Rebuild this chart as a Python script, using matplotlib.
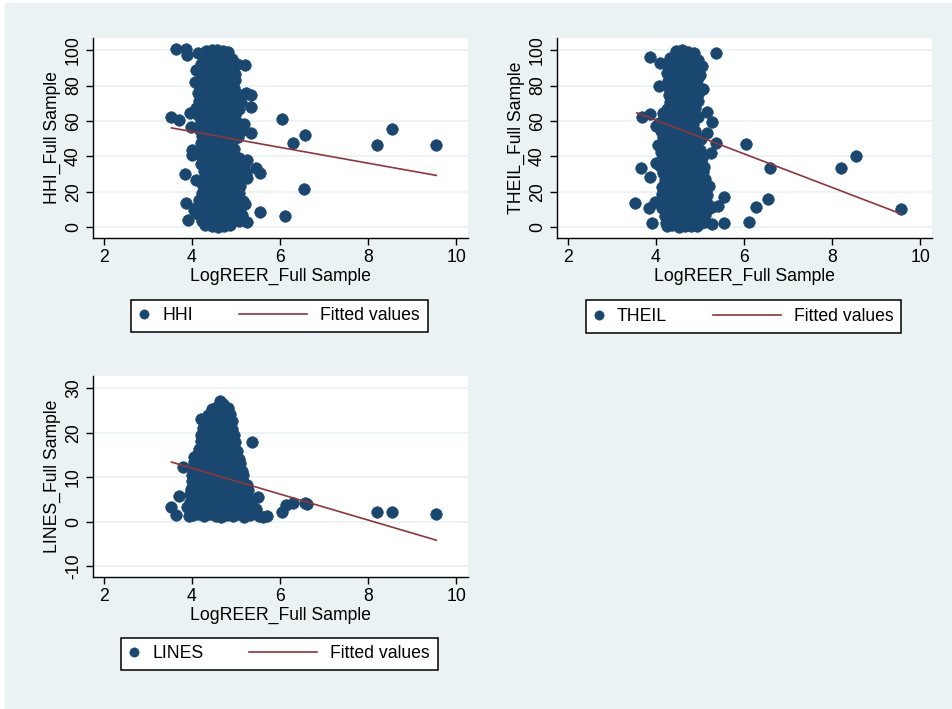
import matplotlib
matplotlib.use('Agg')
import matplotlib.pyplot as plt
from matplotlib.patches import Rectangle
from matplotlib.legend_handler import HandlerLine2D

plt.rcParams['font.family'] = ['Liberation Sans', 'DejaVu Sans']
plt.rcParams['axes.unicode_minus'] = False

BG = '#eaf2f3'
NAVY = '#1a476f'
RED = '#90353b'

# ---- HHI vs LogREER (row by row) ----
hhi_x = [
    4.33, 4.46, 4.58, 4.70, 4.82,
    4.27, 4.40, 4.53, 4.66, 4.79, 4.91,
    4.22, 4.35, 4.49, 4.62, 4.76, 4.89, 5.02,
    4.17, 4.30, 4.44, 4.58, 4.72, 4.85, 4.98,
    4.21, 4.34, 4.47, 4.61, 4.75, 4.88, 4.99,
    4.16, 4.30, 4.44, 4.58, 4.72, 4.86, 4.97,
    4.14, 4.27, 4.41, 4.55, 4.69, 4.83, 4.96, 5.10, 5.24,
    4.16, 4.29, 4.43, 4.57, 4.71, 4.85, 4.98, 5.12,
    4.10, 4.24, 4.38, 4.52, 4.66, 4.80, 4.94, 5.08,
    4.15, 4.29, 4.43, 4.57, 4.71, 4.85, 4.99,
    4.20, 4.34, 4.48, 4.62, 4.76, 4.90, 5.05, 5.18,
    4.16, 4.30, 4.44, 4.58, 4.72, 4.86, 5.00, 5.12,
    4.24, 4.38, 4.52, 4.66, 4.80, 4.94, 5.06,
    4.22, 4.35, 4.49, 4.63, 4.77, 4.91,
    4.25, 4.39, 4.53, 4.67, 4.81, 4.95,
    4.23, 4.37, 4.51, 4.65, 4.79, 4.93, 5.07,
    4.21, 4.35, 4.49, 4.63, 4.77, 4.91, 5.05, 5.18,
    4.27, 4.41, 4.55, 4.69, 4.83, 4.97, 5.11, 5.23,
    4.29, 4.43, 4.57, 4.71, 4.85, 4.99, 5.13, 5.25,
    4.25, 4.39, 4.53, 4.67, 4.81, 4.95, 5.09,
    4.24, 4.38, 4.52, 4.66, 4.80, 4.94, 5.07,
    4.17, 4.31, 4.45, 4.59, 4.73, 4.87, 5.01, 5.16,
    4.12, 4.26, 4.40, 4.54, 4.68, 4.82, 4.96, 5.10, 5.22,
    4.15, 4.29, 4.43, 4.57, 4.71, 4.85, 4.99, 5.13,
    4.23, 4.37, 4.51, 4.65, 4.79, 4.93, 5.07,
    4.30, 4.45, 4.60, 4.74, 4.88,
    # scattered points
    3.65, 3.88, 3.89, 4.14, 3.53, 3.71, 3.97, 3.98, 4.01, 4.01, 3.84, 4.09,
    3.87, 4.06, 3.92, 4.07, 4.10, 5.20, 5.35, 5.35, 5.35, 5.26, 5.45, 5.54,
    5.54, 5.26, 5.10, 6.05, 6.58, 6.29, 6.55, 6.11, 8.21, 8.55, 9.54,
]
hhi_y = [
    99.2, 99.8, 100.2, 99.5, 98.9,
    96.1, 95.5, 96.4, 95.8, 96.3, 95.2,
    92.4, 91.6, 92.8, 91.9, 92.5, 91.3, 92.0,
    88.1, 87.5, 88.6, 87.7, 88.3, 87.2, 86.6,
    83.8, 84.5, 83.2, 84.1, 83.6, 84.4, 82.9,
    79.6, 80.3, 79.1, 80.0, 79.4, 80.2, 78.8,
    75.5, 76.2, 75.0, 76.0, 75.3, 76.1, 75.4, 74.8, 75.6,
    71.4, 72.2, 71.0, 71.8, 71.2, 72.0, 71.5, 70.9,
    67.6, 68.3, 67.1, 68.0, 67.4, 68.2, 67.5, 66.8,
    63.5, 64.3, 63.0, 64.0, 63.4, 64.2, 63.6,
    59.7, 60.4, 59.2, 60.1, 59.5, 60.3, 59.0, 58.4,
    55.6, 56.3, 55.1, 56.0, 55.4, 56.2, 55.5, 54.6,
    51.5, 52.2, 51.0, 51.9, 51.3, 52.1, 51.2,
    47.6, 48.3, 47.1, 48.0, 47.4, 48.2,
    43.5, 44.2, 43.0, 43.9, 43.3, 44.1,
    39.6, 40.3, 39.1, 40.0, 39.4, 40.2, 39.0,
    35.5, 36.2, 35.0, 35.9, 35.3, 36.1, 35.4, 34.8,
    31.6, 32.3, 31.1, 32.0, 31.4, 32.2, 31.5, 30.9,
    27.5, 28.2, 27.0, 27.9, 27.3, 28.1, 27.4, 28.0,
    23.6, 24.3, 23.1, 24.0, 23.4, 24.2, 23.5,
    19.5, 20.2, 19.0, 19.9, 19.3, 20.1, 19.4,
    15.6, 16.3, 15.1, 16.0, 15.4, 16.2, 15.5, 14.8,
    11.5, 12.2, 11.0, 11.9, 11.3, 12.1, 11.4, 12.0, 13.2,
    7.6, 8.3, 7.1, 8.0, 7.4, 8.2, 7.5, 6.9,
    3.5, 4.2, 3.0, 3.9, 3.3, 4.1, 3.4,
    1.2, 0.6, 0.3, 0.9, 1.4,
    100.5, 100.5, 97.2, 98.6, 62.0, 60.5, 64.3, 56.7, 43.6, 40.8, 30.0, 26.7,
    13.9, 10.0, 4.1, 82.0, 88.7, 91.5, 74.6, 68.0, 53.0, 38.0, 33.3, 30.4,
    8.8, 3.2, 4.0, 60.9, 52.0, 47.4, 21.4, 6.4, 46.4, 55.3, 46.4,
]
hhi_fit_x = [3.54, 9.55]
hhi_fit_y = [56.1, 29.3]

# ---- THEIL vs LogREER ----
theil_x = [
    4.47, 4.60, 4.73, 4.86,
    4.32, 4.45, 4.58, 4.71, 4.84, 4.97,
    4.27, 4.40, 4.53, 4.66, 4.79, 4.92, 5.04,
    4.26, 4.39, 4.52, 4.65, 4.78, 4.91, 5.01,
    4.29, 4.42, 4.55, 4.68, 4.81, 4.94,
    4.31, 4.44, 4.57, 4.70, 4.83, 4.96, 5.07,
    4.30, 4.43, 4.56, 4.69, 4.82, 4.95,
    4.32, 4.45, 4.58, 4.71, 4.84, 4.95,
    4.26, 4.39, 4.52, 4.65, 4.78, 4.90,
    4.18, 4.31, 4.44, 4.57, 4.70, 4.83, 4.95,
    4.08, 4.21, 4.34, 4.47, 4.60, 4.73, 4.85,
    4.12, 4.25, 4.38, 4.51, 4.64, 4.77, 4.90,
    4.16, 4.29, 4.42, 4.55, 4.68, 4.81, 4.94, 5.02,
    4.06, 4.19, 4.32, 4.45, 4.58, 4.71, 4.84, 4.92,
    4.11, 4.24, 4.37, 4.50, 4.63, 4.76, 4.89, 5.00,
    4.15, 4.28, 4.41, 4.54, 4.67, 4.80, 4.93, 5.05,
    4.10, 4.23, 4.36, 4.49, 4.62, 4.75, 4.88, 5.01, 5.10,
    4.16, 4.29, 4.42, 4.55, 4.68, 4.81, 4.94, 5.07,
    4.20, 4.33, 4.46, 4.59, 4.72, 4.85, 4.98, 5.12,
    4.15, 4.28, 4.41, 4.54, 4.67, 4.80, 4.93, 5.06,
    4.14, 4.27, 4.40, 4.53, 4.66, 4.79, 4.92, 5.05, 5.17,
    4.10, 4.23, 4.36, 4.49, 4.62, 4.75, 4.88, 5.01, 5.14,
    4.15, 4.28, 4.41, 4.54, 4.67, 4.80, 4.93, 5.06, 5.19, 5.28,
    4.20, 4.33, 4.46, 4.59, 4.72, 4.85, 4.98, 5.11,
    4.24, 4.37, 4.50, 4.63, 4.76, 4.89, 5.02, 5.12,
    4.25, 4.38, 4.52, 4.66, 4.80, 4.94,
    # scattered points
    3.88, 4.10, 4.07, 3.70, 3.88, 4.16, 4.00, 3.66, 3.88, 4.00, 3.54, 3.85,
    3.98, 3.92, 5.36, 5.16, 5.28, 5.17, 5.36, 5.25, 5.21, 5.55, 5.42, 5.28,
    5.55, 6.04, 6.59, 6.27, 6.55, 6.12, 8.20, 8.54, 9.56,
]
theil_y = [
    99.4, 100.1, 99.0, 98.6,
    95.3, 96.1, 95.0, 95.9, 95.2, 94.6,
    91.2, 90.6, 91.5, 90.9, 91.4, 90.5, 91.0,
    86.8, 87.4, 86.3, 87.2, 86.6, 87.3, 86.1,
    82.7, 83.3, 82.2, 83.1, 82.5, 83.0,
    78.6, 79.2, 78.1, 79.0, 78.4, 79.1, 78.3,
    74.7, 75.3, 74.2, 75.1, 74.5, 75.0,
    70.6, 71.2, 70.1, 71.0, 70.4, 71.1,
    66.7, 67.3, 66.2, 67.1, 66.5, 67.2,
    62.6, 63.2, 62.1, 63.0, 62.4, 63.1, 62.5,
    58.7, 59.3, 58.2, 59.1, 58.5, 59.2, 58.4,
    54.6, 55.2, 54.1, 55.0, 54.4, 55.1, 54.5,
    50.7, 51.3, 50.2, 51.1, 50.5, 51.2, 50.6, 49.8,
    46.6, 47.2, 46.1, 47.0, 46.4, 47.1, 46.5, 47.6,
    42.7, 43.3, 42.2, 43.1, 42.5, 43.2, 42.6, 43.4,
    38.6, 39.2, 38.1, 39.0, 38.4, 39.1, 38.5, 39.3,
    34.7, 35.3, 34.2, 35.1, 34.5, 35.2, 34.6, 35.0, 34.0,
    30.6, 31.2, 30.1, 31.0, 30.4, 31.1, 30.5, 31.3,
    26.7, 27.3, 26.2, 27.1, 26.5, 27.2, 26.6, 27.0,
    22.6, 23.2, 22.1, 23.0, 22.4, 23.1, 22.5, 23.2,
    18.7, 19.3, 18.2, 19.1, 18.5, 19.2, 18.6, 19.0, 18.4,
    14.6, 15.2, 14.1, 15.0, 14.4, 15.1, 14.5, 15.3, 14.8,
    10.7, 11.3, 10.2, 11.1, 10.5, 11.2, 10.6, 11.0, 10.3, 11.6,
    6.6, 7.2, 6.1, 7.0, 6.4, 7.1, 6.5, 6.9,
    2.7, 3.3, 2.2, 3.1, 2.5, 3.2, 2.6, 3.0,
    0.6, 1.1, 0.4, 0.9, 0.5, 1.0,
    95.9, 92.8, 79.9, 62.0, 63.7, 64.6, 57.1, 33.6, 28.5, 36.1, 13.5, 11.1,
    14.5, 2.2, 98.1, 65.2, 59.6, 53.4, 47.4, 42.1, 23.5, 17.3, 12.2, 1.9,
    2.2, 47.0, 33.6, 11.6, 16.0, 3.2, 33.6, 40.2, 10.1,
]
theil_fit_x = [3.57, 9.56]
theil_fit_y = [64.6, 7.7]

# ---- LINES vs LogREER ----
lines_x = [
    4.64, 4.72,
    4.46, 4.58, 4.70, 4.82,
    4.38, 4.51, 4.64, 4.77, 4.87,
    4.31, 4.44, 4.57, 4.70, 4.83, 4.91,
    4.25, 4.38, 4.51, 4.64, 4.77, 4.92,
    4.20, 4.33, 4.46, 4.59, 4.72, 4.85, 4.95,
    4.21, 4.34, 4.47, 4.60, 4.73, 4.86, 4.98,
    4.16, 4.29, 4.42, 4.55, 4.68, 4.81, 4.94, 5.02,
    4.11, 4.24, 4.37, 4.50, 4.63, 4.76, 4.89, 5.02, 5.08,
    4.06, 4.19, 4.32, 4.45, 4.58, 4.71, 4.84, 4.97, 5.09,
    4.02, 4.15, 4.28, 4.41, 4.54, 4.67, 4.80, 4.93, 5.06, 5.15,
    4.00, 4.13, 4.26, 4.39, 4.52, 4.65, 4.78, 4.91, 5.04, 5.17,
    4.01, 4.14, 4.27, 4.40, 4.53, 4.66, 4.79, 4.92, 5.05, 5.18, 5.25,
    3.99, 4.12, 4.25, 4.38, 4.51, 4.64, 4.77, 4.90, 5.03, 5.16, 5.28,
    3.96, 4.09, 4.22, 4.35, 4.48, 4.61, 4.74, 4.87, 5.00, 5.13, 5.26,
    3.95, 4.08, 4.21, 4.34, 4.47, 4.60, 4.73, 4.86, 4.99, 5.12, 5.25, 5.35,
    3.94, 4.07, 4.20, 4.33, 4.46, 4.59, 4.72, 4.85, 4.98, 5.11, 5.24, 5.37, 5.45,
    4.02, 4.15, 4.28, 4.41, 4.54, 4.67, 4.80, 4.93, 5.06, 5.19, 5.32,
    # scattered points
    3.54, 3.65, 3.72, 3.81, 3.93, 3.90, 4.05, 4.20, 5.36, 5.51, 5.52, 5.71,
    5.62, 6.05, 6.13, 6.30, 6.56, 6.62, 8.21, 8.55, 9.54,
]
lines_y = [
    27.1, 26.6,
    25.4, 25.9, 25.3, 25.6,
    24.1, 23.8, 24.3, 23.9, 24.2,
    22.4, 22.8, 22.2, 22.6, 22.3, 22.7,
    21.1, 20.7, 21.3, 20.9, 21.2, 20.8,
    19.4, 19.8, 19.2, 19.6, 19.3, 19.7, 19.4,
    18.1, 17.7, 18.3, 17.9, 18.2, 17.8, 18.0,
    16.4, 16.8, 16.2, 16.6, 16.3, 16.7, 16.4, 16.0,
    15.1, 14.7, 15.3, 14.9, 15.2, 14.8, 15.1, 14.6, 14.2,
    13.4, 13.8, 13.2, 13.6, 13.3, 13.7, 13.4, 13.8, 13.1,
    12.1, 11.7, 12.3, 11.9, 12.2, 11.8, 12.1, 11.7, 12.0, 11.4,
    10.4, 10.8, 10.2, 10.6, 10.3, 10.7, 10.4, 10.8, 10.2, 10.6,
    9.1, 8.7, 9.3, 8.9, 9.2, 8.8, 9.1, 8.7, 9.0, 8.6, 8.3,
    7.4, 7.8, 7.2, 7.6, 7.3, 7.7, 7.4, 7.8, 7.2, 7.6, 7.1,
    6.1, 5.7, 6.3, 5.9, 6.2, 5.8, 6.1, 5.7, 6.0, 5.6, 5.9,
    4.4, 4.8, 4.2, 4.6, 4.3, 4.7, 4.4, 4.8, 4.2, 4.6, 4.3, 4.0,
    3.1, 2.7, 3.3, 2.9, 3.2, 2.8, 3.1, 2.7, 3.0, 2.6, 2.9, 2.5, 2.8,
    1.4, 1.8, 1.2, 1.6, 1.3, 1.1, 1.5, 1.2, 1.6, 1.1, 1.4,
    3.3, 1.4, 5.7, 12.2, 1.2, 3.3, 14.6, 23.2, 18.0, 5.5, 1.2, 1.2,
    1.0, 2.2, 3.7, 4.1, 4.1, 4.0, 2.2, 2.2, 1.65,
]
lines_fit_x = [3.54, 9.55]
lines_fit_y = [13.4, -4.2]

xticks = [2, 4, 6, 8, 10]
xlabel = 'LogREER_Full Sample'


class LongLine(HandlerLine2D):
    # fitted-values key is much longer than the marker key in the original
    def create_artists(self, legend, orig_handle, xdescent, ydescent,
                       width, height, fontsize, trans):
        extra = 3.3 * fontsize
        return super().create_artists(legend, orig_handle, xdescent + extra,
                                      ydescent, width + extra, height,
                                      fontsize, trans)


W, H = 952, 709
fig = plt.figure(figsize=(W / 100, H / 100), dpi=100, facecolor='white')
fig.add_artist(Rectangle((5 / W, 0), 1, (H - 3) / H, transform=fig.transFigure,
                         color=BG, zorder=-10))


def panel(box, xs, ys, fx, fy, name, yticks, ylim, legc):
    l, t, r, b = box
    ax = fig.add_axes([l / W, 1 - b / H, (r - l) / W, (b - t) / H])
    ax.set_facecolor('white')
    sc = ax.scatter(xs, ys, s=70, color=NAVY, edgecolors=NAVY, linewidths=0.4,
                    zorder=2)
    ln, = ax.plot(fx, fy, color=RED, lw=1.2, zorder=3)
    ax.set_xlim(1.76, 10.27)
    ax.set_ylim(*ylim)
    ax.set_xticks(xticks)
    ax.set_yticks(yticks)
    ax.set_axisbelow(True)
    ax.yaxis.grid(True, color=BG, lw=1.3)
    for s in ['top', 'right']:
        ax.spines[s].set_visible(False)
    for s in ['left', 'bottom']:
        ax.spines[s].set_linewidth(1.0)
    ax.tick_params(direction='out', length=5, width=1.0, labelsize=12.7, pad=3)
    ax.tick_params(axis='y', labelrotation=90)
    for lab in ax.get_yticklabels():
        lab.set_va('center')
    ax.set_xlabel(xlabel, fontsize=12.7, labelpad=1)
    ax.set_ylabel(name + '_Full Sample', fontsize=12.7, labelpad=3)
    leg = ax.legend([sc, ln], [name, 'Fitted values'], loc='center',
                    bbox_to_anchor=(legc[0] / W, 1 - legc[1] / H),
                    bbox_transform=fig.transFigure, ncol=2, fontsize=12.7,
                    handlelength=0.57, handletextpad=0.73, columnspacing=5.9,
                    borderpad=0.45, scatterpoints=1, scatteryoffsets=[0.5],
                    markerscale=0.8, fancybox=False, edgecolor='black',
                    framealpha=1, borderaxespad=0,
                    handler_map={ln: LongLine()})
    leg.get_frame().set_linewidth(1.1)
    return ax


panel((93, 38, 468, 238), hhi_x, hhi_y, hhi_fit_x, hhi_fit_y, 'HHI',
      [0, 20, 40, 60, 80, 100], (-6.0, 106.8), (279.5, 316))
panel((557, 38, 932, 238), theil_x, theil_y, theil_fit_x, theil_fit_y, 'THEIL',
      [0, 20, 40, 60, 80, 100], (-6.0, 106.8), (743.5, 316.5))
panel((93, 376, 468, 577), lines_x, lines_y, lines_fit_x, lines_fit_y, 'LINES',
      [-10, 0, 10, 20, 30], (-12.5, 32.8), (279.5, 654))

fig.savefig('out.png', dpi=100, facecolor=fig.get_facecolor())
